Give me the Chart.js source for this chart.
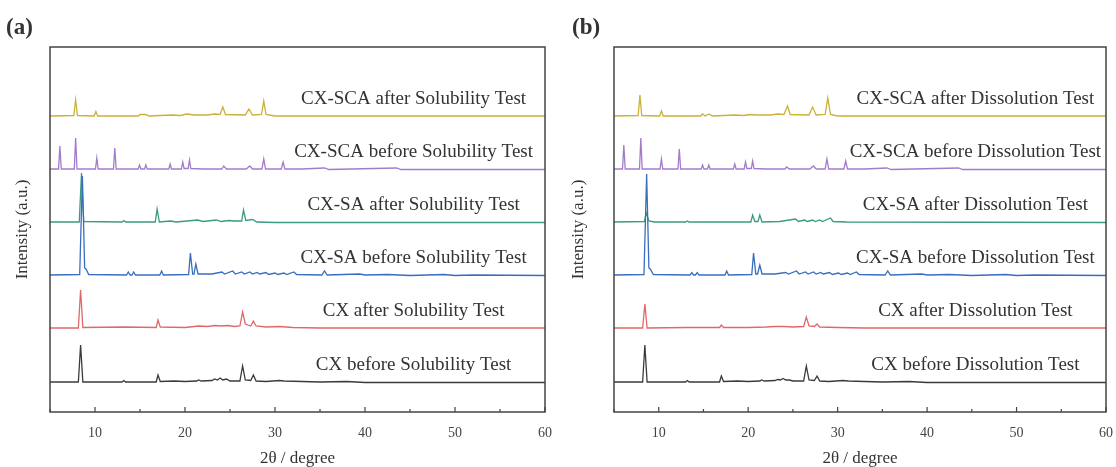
<!DOCTYPE html>
<html lang="en">
<head>
  <meta charset="UTF-8">
  <title>XRD patterns</title>
  <script src="https://cdn.jsdelivr.net/npm/chart.js"></script>
  <style>
    body { margin: 0; background: #fff; }
    #wrap { position: relative; width: 1116px; height: 467px; }
    canvas { position: absolute; top: 0; }
  </style>
</head>
<body>
<div id="wrap">
  <canvas id="chartA" width="556" height="467" style="left:0"></canvas>
  <canvas id="chartB" width="560" height="467" style="left:556px"></canvas>
</div>
<script>
  // [2θ, intensity], bottom trace first
  const aCxBefore = [[5,1],[8.15,1],[8.4,38],[8.65,1],[13.0,1],[13.2,2.5],[13.4,1],[16.8,1],[17.0,8],[17.25,1.5],[18.8,2],[20,1.5],[21.3,2],[21.5,3],[21.8,2],[23.0,2.5],[23.3,4],[23.6,3],[23.9,5],[24.2,3],[24.6,4],[25,2],[26.1,2],[26.4,17],[26.7,3],[27.3,2.5],[27.6,8],[27.9,2],[29,1.5],[30.5,2.5],[31,2],[33,1.5],[35,1],[38,1.5],[40,0.5],[45,0.5],[60,0.5]];
  const aCxAfter = [[5,1],[8.15,1],[8.4,39],[8.65,1.5],[13.2,2],[16.8,1.5],[17.0,9],[17.25,2],[20,1.5],[21.5,3],[22.5,2.5],[23.3,3.5],[24,3],[24.8,3.5],[25.5,2.5],[26.1,3],[26.4,17],[26.7,5],[27.3,3],[27.6,8],[27.9,3],[29,2],[30.5,2.5],[32,1.5],[35,1],[40,1],[60,1]];
  const aSaBefore = [[5,1],[8.3,1.5],[8.6,100],[8.85,8],[9.0,7],[9.3,1.5],[13.5,1],[13.7,4],[13.9,1],[14.1,1],[14.3,4],[14.5,1],[17.2,1],[17.4,5],[17.6,1],[20.4,1.5],[20.6,23],[20.85,2],[21.0,2],[21.2,12],[21.45,2],[23,2],[24.1,4],[24.4,2],[25.3,5],[25.6,2],[26.3,4],[26.6,2],[27.2,4],[27.5,2],[28.0,3.5],[28.3,2],[29.0,3.5],[29.3,1.5],[30.0,3],[30.3,1.5],[31.0,3],[31.3,1.5],[32.1,4],[32.4,1.5],[35.2,1],[35.5,5],[35.8,1],[39.4,2],[40,1],[42.5,1.5],[45,0.5],[48.8,1.5],[50,0.5],[52,1],[60,0.5]];
  const aSaAfter = [[5,1],[8.25,1],[8.5,50],[8.75,1.5],[13.0,1],[13.2,2.5],[13.4,1],[16.7,1],[16.9,14],[17.15,1],[18.4,2],[19,1],[21.4,3],[22,1.5],[23.5,3],[24,1.5],[24.9,2.5],[25.5,2],[26.3,2],[26.5,13],[26.75,2.5],[27.5,3.5],[28,1],[30,0.5],[60,0.5]];
  const aScaBefore = [[5,1],[5.95,1],[6.1,24],[6.25,1],[7.7,1],[7.85,32],[8.0,1],[10.05,1],[10.2,12],[10.35,1],[12.05,1],[12.2,22],[12.35,1],[14.8,1],[14.95,5],[15.1,1],[15.5,1],[15.65,5],[15.8,1],[18.2,1],[18.35,6],[18.5,1],[19.6,1],[19.75,8],[19.9,1.5],[20.35,1.5],[20.5,10],[20.65,1.5],[22,1],[24.1,1],[24.3,4],[24.6,1],[26.8,1],[27.2,4],[27.5,1],[28.55,1],[28.75,11],[28.95,1],[30.7,1],[30.9,8],[31.1,1],[33,1],[35.5,2],[36,0.5],[43.5,2],[44,0.5],[60,0.5]];
  const aScaAfter = [[5,1],[7.65,1.5],[7.85,17],[8.05,1.5],[9.9,1],[10.1,5.5],[10.3,1],[14.8,1],[15.0,2.5],[15.6,2.5],[16,1],[18.5,2],[19.5,1.5],[20.2,3],[21,2],[22.5,2],[23.3,3],[23.9,2.5],[24.2,10],[24.5,2.5],[26.7,2],[27.1,8],[27.5,2],[28.5,2.5],[28.75,16],[29.0,2.5],[30,1],[60,1]];

  const bCxBefore = [[5,1],[8.2,1],[8.45,38],[8.7,1],[13.0,1],[13.2,2.5],[13.4,1],[16.8,1],[17.0,7],[17.25,1.5],[18.8,2],[20,1.5],[21.3,2],[21.5,3],[21.8,2],[23.0,2.5],[23.3,3.5],[23.6,3],[23.9,4.5],[24.2,3],[24.6,3],[25,2],[26.2,2],[26.5,17],[26.8,3],[27.4,2.5],[27.7,7],[28,2],[29,1.5],[30.6,2.5],[31.2,2],[33,1.5],[35,1],[38,1.5],[40,0.5],[45,0.5],[60,0.5]];
  const bCxAfter = [[5,1],[8.2,1],[8.45,25],[8.7,1],[13.2,1.5],[16.8,1.5],[17.0,4],[17.25,1.5],[20,1.5],[22,2],[23,2.5],[24,2.5],[25,2],[26.2,2.5],[26.5,12],[26.8,3],[27.4,2.5],[27.7,5],[28,2],[30,1.5],[33,1],[60,1]];
  const bSaBefore = [[5,1],[8.35,1.5],[8.65,102],[8.9,8],[9.05,7],[9.4,1.5],[13.5,1],[13.7,3.5],[13.9,1],[14.1,1],[14.3,3.5],[14.5,1],[17.4,1],[17.6,5],[17.8,1],[20.4,1.5],[20.6,23],[20.85,2],[21.05,2],[21.3,11],[21.55,2],[23,2],[24.2,3.5],[24.5,2],[25.4,5],[25.7,2],[26.4,4],[26.7,2],[27.3,4],[27.6,2],[28.1,3.5],[28.4,2],[29.1,3.5],[29.4,1.5],[30.1,3],[30.4,1.5],[31.1,3],[31.4,1.5],[32.1,4],[32.4,1.5],[35.3,1],[35.6,5],[35.9,1],[39.4,2],[40,1],[42.5,1.5],[45,0.5],[48.8,1.5],[50,0.5],[52,1],[60,0.5]];
  const bSaAfter = [[5,1],[8.4,1.5],[8.6,10],[8.9,2],[9.5,1],[13,1],[13.2,2],[13.4,1],[20.3,1],[20.5,8],[20.75,1.5],[21.1,1.5],[21.3,8],[21.55,1],[23.5,1.5],[25.3,4],[25.6,1.5],[26.3,3],[26.6,1.5],[27.2,3],[27.5,1.5],[28.0,3],[28.3,1.5],[29.2,5],[29.5,1.5],[31,1],[60,0.5]];
  const bScaBefore = [[5,1],[5.95,1],[6.1,25],[6.25,1],[7.85,1],[8.0,32],[8.15,1],[10.15,1],[10.3,11],[10.45,1],[12.15,1],[12.3,21],[12.45,1],[14.75,1],[14.9,5],[15.05,1],[15.45,1],[15.6,5],[15.75,1],[18.35,1],[18.5,6],[18.65,1],[19.55,1],[19.7,8],[19.85,1.5],[20.35,1.5],[20.5,9],[20.65,1.5],[22,1],[24.1,1],[24.3,3],[24.6,1],[26.9,1],[27.3,4],[27.6,1],[28.6,1],[28.8,11],[29.0,1],[30.7,1],[30.9,9],[31.1,1],[33,1],[35.5,2],[36,0.5],[43.5,2],[44,0.5],[60,0.5]];
  const bScaAfter = [[5,1],[7.7,1.5],[7.9,22],[8.1,1.5],[10.1,1],[10.3,6],[10.5,1],[14.7,1],[14.9,3],[15.2,1],[15.6,3],[16,1],[18.5,2],[19.5,1.5],[20.2,2.5],[21,2],[22.5,2],[23.3,3],[24.0,2.5],[24.4,11],[24.7,2.5],[26.8,2],[27.2,10],[27.6,2],[28.6,2.5],[28.9,19],[29.2,2.5],[30,1],[60,1]];

  const offsets = [29, 83, 136, 189, 242, 295];
  const colors = ['#3b3b3b', '#e0686a', '#3b6dbf', '#3b9a82', '#a27ccb', '#cbb03a'];
  const namesA = ['CX before Solubility Test', 'CX after Solubility Test', 'CX-SA before Solubility Test',
                  'CX-SA after Solubility Test', 'CX-SCA before Solubility Test', 'CX-SCA after Solubility Test'];
  const namesB = ['CX before Dissolution Test', 'CX after Dissolution Test', 'CX-SA before Dissolution Test',
                  'CX-SA after Dissolution Test', 'CX-SCA before Dissolution Test', 'CX-SCA after Dissolution Test'];
  const seriesA = [aCxBefore, aCxAfter, aSaBefore, aSaAfter, aScaBefore, aScaAfter];
  const seriesB = [bCxBefore, bCxAfter, bSaBefore, bSaAfter, bScaBefore, bScaAfter];
  const labelAt = 45.4;   // 2θ where the sample names are centred
  const labelLift = 18;   // above each baseline
  const serif = '"Liberation Serif", "Times New Roman", serif';

  // frame, inward ticks, sample names and panel tag
  const decor = {
    id: 'decor',
    afterDatasetsDraw(chart, args, opts) {
      const { ctx, chartArea: a, scales: { x, y } } = chart;
      ctx.save();
      ctx.strokeStyle = '#444';
      ctx.lineWidth = 1.5;
      ctx.strokeRect(a.left, a.top, a.right - a.left, a.bottom - a.top);
      ctx.lineWidth = 1.2;
      x.ticks.forEach(t => {
        const px = x.getPixelForValue(t.value);
        const len = t.value % 10 === 0 ? 5 : 3;
        ctx.beginPath();
        ctx.moveTo(px, a.bottom);
        ctx.lineTo(px, a.bottom - len);
        ctx.stroke();
      });
      ctx.fillStyle = '#333';
      ctx.font = '19px ' + serif;
      ctx.textAlign = 'center';
      ctx.textBaseline = 'middle';
      opts.names.forEach((n, i) => {
        ctx.fillText(n, x.getPixelForValue(labelAt), y.getPixelForValue(offsets[i] + labelLift));
      });
      ctx.font = 'bold 23px ' + serif;
      ctx.textAlign = 'left';
      ctx.fillText(opts.tag, opts.tagX, 28);
      ctx.restore();
    }
  };

  function makeChart(id, series, names, tag, tagX, yWidth, padRight) {
    const ctx = document.getElementById(id).getContext('2d');
    return new Chart(ctx, {
      type: 'line',
      data: {
        datasets: series.map((s, i) => ({
          label: names[i],
          data: s.map(p => ({ x: p[0], y: p[1] + offsets[i] })),
          borderColor: colors[i],
          borderWidth: 1.3,
          pointRadius: 0,
          tension: 0,
          fill: false
        }))
      },
      options: {
        responsive: false,
        animation: false,
        layout: { padding: { top: 47, right: padRight, left: 0, bottom: 0 } },
        plugins: {
          legend: { display: false },
          tooltip: { enabled: false },
          decor: { names: names, tag: tag, tagX: tagX }
        },
        scales: {
          x: {
            type: 'linear',
            min: 5,
            max: 60,
            grid: { display: true, drawOnChartArea: false, drawTicks: true, tickLength: 11, color: 'rgba(0,0,0,0)' },
            border: { display: false },
            ticks: {
              stepSize: 5,
              padding: 2,
              color: '#444',
              font: { family: serif, size: 14 },
              callback: v => (v % 10 === 0 ? v : '')
            },
            title: {
              display: true,
              text: '2θ / degree',
              color: '#333',
              font: { family: serif, size: 17, lineHeight: 1 },
              padding: { top: 0, bottom: 0 }
            },
            afterFit: s => { s.height = 55; }
          },
          y: {
            min: 0,
            max: 365,
            grid: { display: false },
            border: { display: false },
            ticks: { display: false },
            title: {
              display: true,
              text: 'Intensity (a.u.)',
              color: '#333',
              font: { family: serif, size: 17 },
              padding: { top: 12, bottom: 0 }
            },
            afterFit: s => { s.width = yWidth; }
          }
        }
      },
      plugins: [decor]
    });
  }

  makeChart('chartA', seriesA, namesA, '(a)', 6, 50, 11);
  makeChart('chartB', seriesB, namesB, '(b)', 16, 58, 10);
</script>
</body>
</html>
